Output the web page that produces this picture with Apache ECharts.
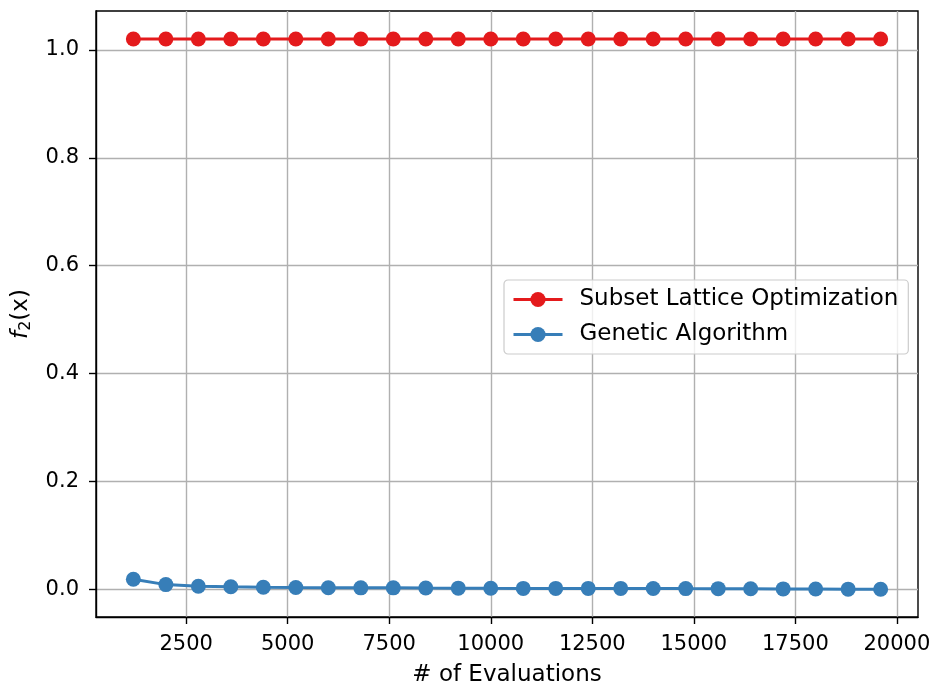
<!DOCTYPE html>
<html>
<head>
<meta charset="utf-8">
<script src="https://cdn.jsdelivr.net/npm/echarts@6/dist/echarts.min.js"></script>
<style>
  html, body { margin: 0; padding: 0; background: #fff; }
  #chart { width: 936px; height: 692px; }
</style>
</head>
<body>
<div id="chart"></div>
<script>
// Evaluation budgets (x) and objective values per method
const evaluations = [1200, 2000, 2800, 3600, 4400, 5200, 6000, 6800, 7600, 8400, 9200, 10000,
                     10800, 11600, 12400, 13200, 14000, 14800, 15600, 16400, 17200, 18000, 18800, 19600];
const sloValues = [1.02, 1.02, 1.02, 1.02, 1.02, 1.02, 1.02, 1.02, 1.02, 1.02, 1.02, 1.02,
                   1.02, 1.02, 1.02, 1.02, 1.02, 1.02, 1.02, 1.02, 1.02, 1.02, 1.02, 1.02];
const gaValues = [0.019, 0.009, 0.006, 0.005, 0.0042, 0.0036, 0.0032, 0.003, 0.003, 0.0027, 0.0025, 0.0022,
                  0.002, 0.002, 0.002, 0.002, 0.0018, 0.0016, 0.0015, 0.0013, 0.0011, 0.001, 0.0006, 0.0004];
const xTicks = [2500, 5000, 7500, 10000, 12500, 15000, 17500, 20000];
const yTicks = [0.0, 0.2, 0.4, 0.6, 0.8, 1.0];
const seriesNames = ['Subset Lattice Optimization', 'Genetic Algorithm'];

const FONT = 'DejaVu Sans';
const chart = echarts.init(document.getElementById('chart'), null, { renderer: 'canvas' });

const pairs = (ys) => evaluations.map((x, i) => [x, ys[i]]);

chart.setOption({
  animation: false,
  backgroundColor: '#fff',
  textStyle: { fontFamily: FONT },
  grid: {
    left: 96, right: 18, top: 11, bottom: 69,
    show: true, borderColor: '#000', borderWidth: 1.4, backgroundColor: 'transparent'
  },
  legend: {
    orient: 'vertical',
    left: 504, top: 280,
    padding: [8, 10, 8, 8],
    itemGap: 12,
    itemWidth: 49,
    itemHeight: 19,
    backgroundColor: 'rgba(255,255,255,0.8)',
    borderColor: '#cccccc',
    borderWidth: 1.2,
    borderRadius: 4,
    lineStyle: { width: 3 },
    textStyle: { fontFamily: FONT, fontSize: 23, color: '#000', lineHeight: 22, padding: [0, 0, 0, 12] },
    data: seriesNames
  },
  xAxis: {
    type: 'value',
    min: 280, max: 20520,
    name: '# of Evaluations',
    nameLocation: 'middle',
    nameGap: 47,
    nameTextStyle: { fontFamily: FONT, fontSize: 23, color: '#000' },
    axisLine: { show: true, onZero: false, lineStyle: { color: '#000', width: 1.4 } },
    axisTick: { show: true, length: 7, lineStyle: { color: '#000', width: 1.4 }, customValues: xTicks },
    axisLabel: { fontFamily: FONT, fontSize: 21, color: '#000', margin: 17, customValues: xTicks,
                 formatter: (v) => String(v) },
    splitLine: { show: true, lineStyle: { color: '#b0b0b0', width: 1.4 } }
  },
  yAxis: {
    type: 'value',
    min: -0.051, max: 1.072,
    name: '{f|f}{s|2}{n|(x)}',
    nameLocation: 'middle',
    nameRotate: 90,
    nameGap: 62,
    nameTextStyle: {
      fontFamily: FONT, fontSize: 23, color: '#000',
      rich: {
        f: { fontFamily: FONT, fontSize: 23, fontStyle: 'italic', color: '#000' },
        s: { fontFamily: FONT, fontSize: 16, color: '#000', padding: [9, 0, 0, 0] },
        n: { fontFamily: FONT, fontSize: 23, color: '#000' }
      }
    },
    axisLine: { show: true, onZero: false, lineStyle: { color: '#000', width: 1.4 } },
    axisTick: { show: true, length: 7, lineStyle: { color: '#000', width: 1.4 }, customValues: yTicks },
    axisLabel: { fontFamily: FONT, fontSize: 21, color: '#000', margin: 17, customValues: yTicks,
                 formatter: (v) => v.toFixed(1) },
    splitLine: { show: true, lineStyle: { color: '#b0b0b0', width: 1.4 } }
  },
  series: [
    {
      name: seriesNames[0],
      type: 'line',
      data: pairs(sloValues),
      symbol: 'circle',
      symbolSize: 15,
      color: '#e41a1c',
      lineStyle: { color: '#e41a1c', width: 3 },
      itemStyle: { color: '#e41a1c' },
      z: 3
    },
    {
      name: seriesNames[1],
      type: 'line',
      data: pairs(gaValues),
      symbol: 'circle',
      symbolSize: 15,
      color: '#377eb8',
      lineStyle: { color: '#377eb8', width: 3 },
      itemStyle: { color: '#377eb8' },
      z: 3
    }
  ]
});
</script>
</body>
</html>
